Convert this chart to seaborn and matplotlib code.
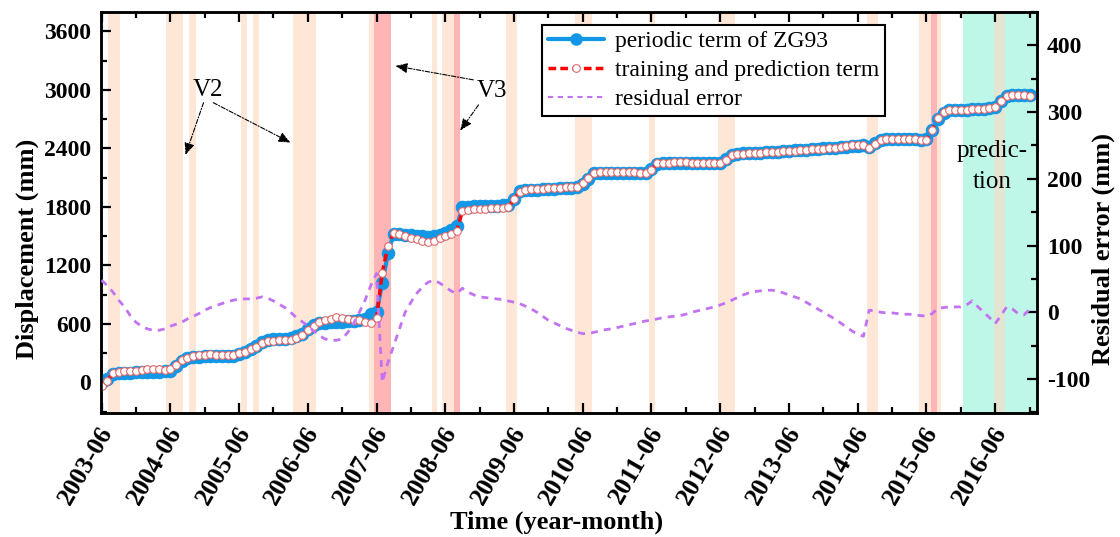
import numpy as np
import pandas as pd
import matplotlib
matplotlib.use("Agg")
import matplotlib.pyplot as plt
from matplotlib.lines import Line2D
from matplotlib.ticker import MultipleLocator
from matplotlib.transforms import ScaledTranslation
import seaborn as sns

# ---------------- data (monthly, 2003-06 .. 2016-12) ----------------
periodic_zg93 = [
    0, 40, 92, 97, 100, 102, 104, 106, 110, 112, 112, 115,
    122, 172, 222, 248, 258, 265, 270, 272, 270, 268, 268, 272,
    292, 312, 342, 375, 420, 440, 445, 447, 448, 455, 472, 500,
    545, 588, 605, 612, 618, 622, 625, 628, 632, 640, 655, 700,
    727, 1018, 1326, 1525, 1522, 1515, 1508, 1502, 1498, 1497, 1503, 1515,
    1532, 1562, 1600, 1795, 1802, 1806, 1808, 1810, 1812, 1815, 1817, 1820,
    1882, 1960, 1972, 1975, 1978, 1980, 1983, 1986, 1990, 1994, 1998, 2005,
    2040, 2092, 2145, 2148, 2150, 2150, 2150, 2150, 2150, 2150, 2150, 2152,
    2185, 2245, 2252, 2253, 2254, 2255, 2255, 2254, 2252, 2251, 2250, 2250,
    2252, 2290, 2335, 2345, 2350, 2352, 2355, 2358, 2362, 2365, 2368, 2372,
    2376, 2380, 2384, 2388, 2392, 2396, 2400, 2405, 2410, 2415, 2420, 2425,
    2428, 2432, 2420, 2455, 2488, 2494, 2495, 2495, 2495, 2496, 2495, 2492,
    2495, 2590, 2705, 2768, 2790, 2795, 2797, 2798, 2800, 2802, 2806, 2812,
    2830, 2888, 2938, 2948, 2950, 2948, 2945,
]
training_prediction = [
    -40, 18, 95, 110, 115, 118, 122, 130, 138, 140, 135, 130,
    135, 180, 231, 255, 270, 278, 285, 289, 285, 280, 278, 282,
    300, 316, 344, 368, 408, 426, 430, 432, 432, 440, 460, 490,
    535, 582, 620, 640, 655, 668, 665, 655, 645, 638, 625, 610,
    660, 1127, 1400, 1537, 1524, 1503, 1486, 1469, 1455, 1445, 1452, 1479,
    1503, 1524, 1554, 1758, 1770, 1775, 1780, 1784, 1788, 1791, 1794, 1797,
    1880, 1958, 1975, 1980, 1983, 1986, 1990, 1993, 1996, 2000, 2004, 2009,
    2044, 2095, 2153, 2155, 2155, 2155, 2155, 2155, 2155, 2155, 2153, 2153,
    2180, 2249, 2255, 2255, 2257, 2258, 2257, 2255, 2253, 2252, 2250, 2249,
    2249, 2283, 2334, 2344, 2348, 2350, 2353, 2356, 2359, 2362, 2366, 2370,
    2374, 2378, 2382, 2386, 2390, 2394, 2398, 2402, 2410, 2419, 2425, 2432,
    2432, 2437, 2405, 2450, 2488, 2495, 2495, 2495, 2496, 2496, 2495, 2490,
    2490, 2590, 2710, 2770, 2792, 2796, 2797, 2798, 2800, 2802, 2806, 2813,
    2830, 2891, 2940, 2948, 2950, 2948, 2943,
]
residual_error = [
    48, 40, 30, 18, 8, -5, -15, -21, -25, -27, -27, -25,
    -21, -18, -15, -10, -6, -2, 3, 7, 10, 13, 16, 18,
    20, 20, 20, 21, 23, 21, 17, 12, 7, 0, -8, -14,
    -20, -28, -35, -40, -42, -42, -40, -30, -17, 0, 18, 40,
    58, -105, -75, -50, -25, 0, 15, 28, 38, 45, 48, 44,
    38, 32, 28, 36, 30, 26, 23, 22, 21, 20, 19, 17,
    15, 13, 9, 5, 0, -6, -12, -16, -20, -24, -27, -30,
    -32, -32, -30, -28, -26, -25, -23, -21, -19, -17, -15, -13,
    -12, -10, -8, -7, -6, -5, -3, 0, 2, 4, 6, 8,
    11, 14, 18, 22, 26, 29, 31, 32, 33, 33, 32, 29,
    26, 23, 20, 15, 10, 5, 0, -5, -10, -16, -22, -28,
    -33, -36, 3, 2, 0, -1, -1, -2, -3, -3, -4, -5,
    -6, -2, 6, 7, 8, 8, 8, 11, 17, 8, 0, -8,
    -17, -5, 8, 5, -2, -4, 4,
]
tick_labels = ["2003-06", "2004-06", "2005-06", "2006-06", "2007-06", "2008-06",
               "2009-06", "2010-06", "2011-06", "2012-06", "2013-06", "2014-06",
               "2015-06", "2016-06"]
# shaded periods (month index since 2003-06)
rain_bands = [(1.2, 3.3), (11.3, 14.3), (15.3, 16.4), (24.4, 25.4), (26.5, 27.4),
              (33.5, 37.5), (46.6, 47.5), (57.6, 58.6), (59.4, 61.5), (70.6, 72.5),
              (82.7, 85.6), (95.6, 96.6), (107.6, 110.6), (133.6, 135.6),
              (142.7, 146.6)]
strong_bands = [(47.5, 50.5), (61.5, 62.5), (144.8, 145.8)]
prediction_band = (150.4, 164.0)
overlap_band = (155.8, 157.8)

months = np.arange(len(periodic_zg93))
df = pd.DataFrame({"month": months, "periodic": periodic_zg93,
                   "train": training_prediction, "resid": residual_error})

# ---------------- style ----------------
sns.set_theme(style="ticks")
plt.rcParams["font.family"] = ["Liberation Serif", "DejaVu Serif"]
plt.rcParams["axes.unicode_minus"] = False
for key in ("text.color", "axes.labelcolor", "xtick.color", "ytick.color",
            "axes.edgecolor"):
    plt.rcParams[key] = "black"

BLUE = "#1296E6"
RED = "#FF0000"
PURPLE = "#C273F2"
PEACH = "#FFE7D8"
PINK = "#FFB4B6"
CYAN = "#BEF7E8"
BEIGE = "#E3E4D2"
TICK_FS = 17

fig = plt.figure(figsize=(11.2, 5.37), dpi=100)
ax = fig.add_axes([101 / 1120, 1 - 413 / 537, 936 / 1120, 401 / 537])
ax2 = ax.twinx()

# bands
ax.axvspan(*prediction_band, color=CYAN, lw=0, zorder=0)
for s, e in rain_bands:
    ax.axvspan(s, e, color=PEACH, lw=0, zorder=0)
for s, e in strong_bands:
    ax.axvspan(s, e, color=PINK, lw=0, zorder=0)
ax.axvspan(*overlap_band, color=BEIGE, lw=0, zorder=0)

sns.lineplot(data=df, x="month", y="periodic", ax=ax, color=BLUE, lw=3,
             marker="o", markersize=9, markeredgecolor=BLUE, markerfacecolor=BLUE,
             legend=False, zorder=3)
sns.lineplot(data=df, x="month", y="train", ax=ax, color=RED, lw=2.5,
             dashes=False, marker="o", markersize=5.5, markerfacecolor="white",
             markeredgecolor="#E06A6A", markeredgewidth=0.8, legend=False, zorder=4)
ax.lines[-1].set_linestyle((0, (2.2, 1.2)))
sns.lineplot(data=df, x="month", y="resid", ax=ax2, color=PURPLE, lw=2,
             legend=False, zorder=5)
ax2.lines[-1].set_linestyle((0, (2.5, 2.2)))

# axes
ax.set_xlim(-0.1, 163.3)
ax.set_ylim(-313, 3800)
ax2.set_ylim(-151, 450)
ax.set_xticks(np.arange(0, 12 * len(tick_labels), 12))
ax.set_xticklabels(tick_labels, rotation=60, ha="right", va="center",
                   rotation_mode="anchor", fontsize=18.5, fontweight="bold",
                   color="black")
ax.xaxis.set_minor_locator(MultipleLocator(6))
ax.yaxis.set_major_locator(MultipleLocator(600))
ax.yaxis.set_minor_locator(MultipleLocator(300))
ax2.yaxis.set_major_locator(MultipleLocator(100))
ax2.yaxis.set_minor_locator(MultipleLocator(50))
for lab in ax.get_yticklabels() + ax2.get_yticklabels():
    lab.set_fontsize(TICK_FS)
    lab.set_fontweight("bold")
    lab.set_color("black")

for a in (ax, ax2):
    for sp in a.spines.values():
        sp.set_linewidth(1.8)
        sp.set_color("black")
ax.tick_params(axis="both", which="major", direction="in", length=7, width=1.6,
               top=True, right=False, colors="black")
ax.tick_params(axis="y", which="major", pad=7)
ax.tick_params(axis="x", which="major", pad=11)
ax.tick_params(axis="both", which="minor", direction="in", length=4, width=1.6,
               top=True, right=False, colors="black")
ax2.tick_params(axis="y", which="major", direction="in", length=7, width=1.6, pad=7,
                colors="black")
ax2.tick_params(axis="y", which="minor", direction="in", length=4, width=1.6,
                colors="black")

# shift rotated date labels slightly to the right (as in reference)
shift = ScaledTranslation(6 / 100, 0, fig.dpi_scale_trans)
for lab in ax.get_xticklabels():
    lab.set_transform(lab.get_transform() + shift)

ax.set_xlabel("Time (year-month)", fontsize=19, fontweight="bold", color="black")
ax.set_ylabel("Displacement (mm)", fontsize=19, fontweight="bold", color="black")
ax2.set_ylabel("Residual error (mm)", fontsize=19, fontweight="bold", rotation=90,
               color="black")
ax.xaxis.set_label_coords(0.487, -0.243)
ax.yaxis.set_label_coords(-0.066, 0.41)
ax2.yaxis.set_label_coords(1.058, 0.41)

# annotations
arrow_kw = dict(arrowstyle="-|>,head_length=0.6,head_width=0.25", color="black",
                lw=0.8, linestyle=(0, (4, 1.5, 1, 1.5)), shrinkA=0, shrinkB=0)
ax.text(18.6, 3000, "V2", fontsize=18, ha="center", va="center", zorder=6,
        color="black")
ax.annotate("", xy=(14.65, 2334), xytext=(17.8, 2870), arrowprops=arrow_kw)
ax.annotate("", xy=(33.0, 2460), xytext=(19.5, 2870), arrowprops=arrow_kw)
ax.text(68.2, 2990, "V3", fontsize=18, ha="center", va="center", zorder=6,
        color="black")
ax.annotate("", xy=(51.3, 3247), xytext=(64.9, 3104), arrowprops=arrow_kw)
ax.annotate("", xy=(62.6, 2583), xytext=(65.8, 2847), arrowprops=arrow_kw)
ax.text(155.4, 2215, "predic-\ntion", fontsize=18, ha="center", va="center",
        linespacing=1.55, zorder=6, color="black")

# legend
handles = [
    Line2D([], [], color=BLUE, lw=3, marker="o", markersize=8,
           markeredgecolor=BLUE),
    Line2D([], [], color=RED, lw=2.5, linestyle=(0, (2.2, 1.2)), marker="o",
           markersize=5.5, markerfacecolor="white", markeredgecolor="#E06A6A",
           markeredgewidth=0.8),
    Line2D([], [], color=PURPLE, lw=1.5, linestyle=(0, (2.5, 2.2))),
]
labels = ["periodic term of ZG93", "training and prediction term", "residual error"]
leg = ax2.legend(handles, labels, loc="upper left", bbox_to_anchor=(0.471, 0.968),
                 borderaxespad=0, fontsize=17, frameon=True, fancybox=False,
                 edgecolor="black", framealpha=1, handlelength=2.4,
                 handletextpad=0.45, labelspacing=0.32, borderpad=0.25,
                 labelcolor="black")
leg.get_frame().set_linewidth(1.5)

fig.savefig("out.png", dpi=100)
